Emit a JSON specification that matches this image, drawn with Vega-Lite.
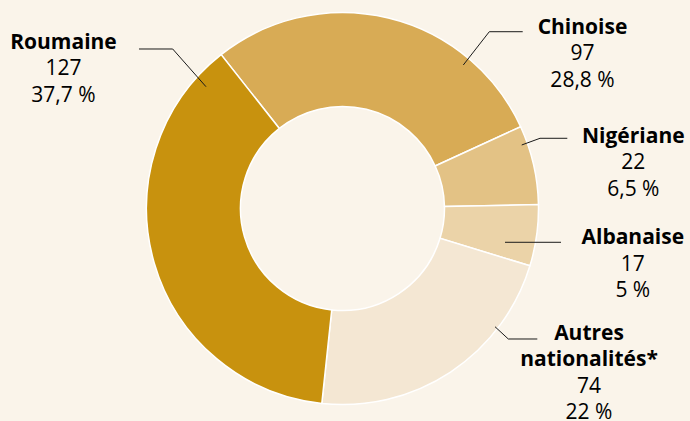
{
  "$schema": "https://vega.github.io/schema/vega-lite/v6.json",
  "width": 685,
  "height": 417,
  "autosize": {"type": "none"},
  "padding": {"left": 0, "top": 0, "right": 5, "bottom": 4},
  "background": "#FAF4EA",
  "config": {"view": {"stroke": null}, "font": "Open Sans"},
  "datasets": {
    "slices": [
      {"nationalite": "Chinoise", "rank": 1, "count": 97, "pct": "28,8 %"},
      {"nationalite": "Nigériane", "rank": 2, "count": 22, "pct": "6,5 %"},
      {"nationalite": "Albanaise", "rank": 3, "count": 17, "pct": "5 %"},
      {"nationalite": "Autres nationalités*", "rank": 4, "count": 74, "pct": "22 %"},
      {"nationalite": "Roumaine", "rank": 5, "count": 127, "pct": "37,7 %"}
    ],
    "labels": [
      {"nationalite": "Chinoise", "label": "Chinoise", "lx": 1.2245, "ly": 0.8903},
      {"nationalite": "Nigériane", "label": "Nigériane", "lx": 1.4837, "ly": 0.3342},
      {"nationalite": "Albanaise", "label": "Albanaise", "lx": 1.4811, "ly": -0.1827},
      {"nationalite": "Autres nationalités*", "label": "Autres\nnationalités*", "lx": 1.2577, "ly": -0.6709},
      {"nationalite": "Roumaine", "label": "Roumaine", "lx": -1.4235, "ly": 0.8138}
    ],
    "leaders": [
      {"nationalite": "Roumaine", "step": 1, "x": -1.0383, "y": 0.8138},
      {"nationalite": "Roumaine", "step": 2, "x": -0.8663, "y": 0.8138},
      {"nationalite": "Roumaine", "step": 3, "x": -0.6964, "y": 0.6214},
      {"nationalite": "Chinoise", "step": 1, "x": 0.9194, "y": 0.902},
      {"nationalite": "Chinoise", "step": 2, "x": 0.749, "y": 0.902},
      {"nationalite": "Chinoise", "step": 3, "x": 0.6163, "y": 0.7321},
      {"nationalite": "Nigériane", "step": 1, "x": 1.1469, "y": 0.3582},
      {"nationalite": "Nigériane", "step": 2, "x": 1.0077, "y": 0.3582},
      {"nationalite": "Nigériane", "step": 3, "x": 0.9143, "y": 0.324},
      {"nationalite": "Albanaise", "step": 1, "x": 1.1148, "y": -0.1724},
      {"nationalite": "Albanaise", "step": 2, "x": 0.8291, "y": -0.1724},
      {"nationalite": "Autres nationalités*", "step": 1, "x": 0.9939, "y": -0.6658},
      {"nationalite": "Autres nationalités*", "step": 2, "x": 0.8459, "y": -0.6658},
      {"nationalite": "Autres nationalités*", "step": 3, "x": 0.7781, "y": -0.6031}
    ]
  },
  "layer": [
    {
      "data": {"name": "slices"},
      "mark": {"type": "arc", "innerRadius": 102, "outerRadius": 196, "stroke": "#FFFFFF", "strokeWidth": 1.5},
      "encoding": {
        "theta": {"field": "count", "type": "quantitative", "stack": true, "scale": {"range": [-0.668, 5.6152]}},
        "color": {
          "field": "nationalite",
          "type": "nominal",
          "sort": ["Chinoise", "Nigériane", "Albanaise", "Autres nationalités*", "Roumaine"],
          "scale": {
            "domain": ["Chinoise", "Nigériane", "Albanaise", "Autres nationalités*", "Roumaine"],
            "range": ["#D8AB55", "#E3C285", "#EBD3A8", "#F4E7D3", "#C8920E"]
          },
          "legend": null
        },
        "order": {"field": "rank", "type": "quantitative"}
      }
    },
    {
      "data": {"name": "leaders"},
      "mark": {"type": "line", "stroke": "#1A1A1A", "strokeWidth": 1},
      "encoding": {
        "x": {"field": "x", "type": "quantitative", "scale": {"domain": [-1.7474, 1.7474]}, "axis": null},
        "y": {"field": "y", "type": "quantitative", "scale": {"domain": [-1.0638, 1.0638]}, "axis": null},
        "detail": {"field": "nationalite"},
        "order": {"field": "step", "type": "quantitative"}
      }
    },
    {
      "data": {"name": "labels"},
      "mark": {"type": "text", "fontWeight": "bold", "fontSize": 21, "align": "center", "baseline": "alphabetic", "lineBreak": "\n", "lineHeight": 26.3, "color": "#000000"},
      "encoding": {
        "x": {"field": "lx", "type": "quantitative", "scale": {"domain": [-1.7474, 1.7474]}, "axis": null},
        "y": {"field": "ly", "type": "quantitative", "scale": {"domain": [-1.0638, 1.0638]}, "axis": null},
        "text": {"field": "label"}
      }
    },
    {
      "data": {"name": "labels"},
      "transform": [
        {"lookup": "nationalite", "from": {"data": {"name": "slices"}, "key": "nationalite", "fields": ["count", "pct"]}},
        {"calculate": "length(datum.label) > 12 ? 2 : 1", "as": "nlines"},
        {"calculate": "datum.ly - datum.nlines * 0.13418", "as": "ycount"}
      ],
      "mark": {"type": "text", "fontWeight": "normal", "fontSize": 21, "align": "center", "baseline": "alphabetic", "color": "#000000"},
      "encoding": {
        "x": {"field": "lx", "type": "quantitative", "scale": {"domain": [-1.7474, 1.7474]}, "axis": null},
        "y": {"field": "ycount", "type": "quantitative", "scale": {"domain": [-1.0638, 1.0638]}, "axis": null},
        "text": {"field": "count", "type": "quantitative"}
      }
    },
    {
      "data": {"name": "labels"},
      "transform": [
        {"lookup": "nationalite", "from": {"data": {"name": "slices"}, "key": "nationalite", "fields": ["count", "pct"]}},
        {"calculate": "length(datum.label) > 12 ? 2 : 1", "as": "nlines"},
        {"calculate": "datum.ly - (datum.nlines + 1) * 0.13418", "as": "ypct"}
      ],
      "mark": {"type": "text", "fontWeight": "normal", "fontSize": 21, "align": "center", "baseline": "alphabetic", "color": "#000000"},
      "encoding": {
        "x": {"field": "lx", "type": "quantitative", "scale": {"domain": [-1.7474, 1.7474]}, "axis": null},
        "y": {"field": "ypct", "type": "quantitative", "scale": {"domain": [-1.0638, 1.0638]}, "axis": null},
        "text": {"field": "pct"}
      }
    }
  ]
}
